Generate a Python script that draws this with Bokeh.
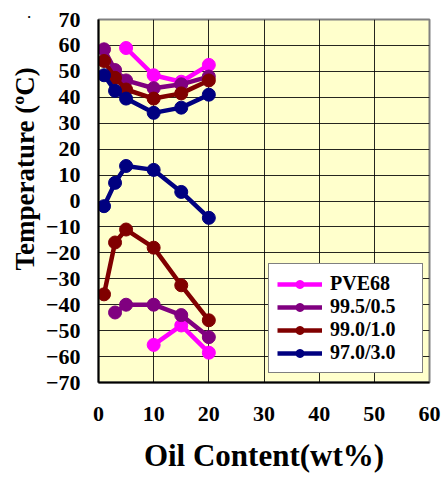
from bokeh.plotting import figure
from bokeh.models import FixedTicker, Legend, LegendItem, Range1d, Title
from bokeh.embed import file_html
from bokeh.resources import INLINE

# ---- data ----
series_names = ["PVE68", "99.5/0.5", "99.0/1.0", "97.0/3.0"]
series_colors = ["#FF00FF", "#800080", "#800000", "#000080"]

pve_hi_x = [5, 10, 15, 20]
pve_hi_y = [59, 48.5, 46, 52.5]
pve_lo_x = [10, 15, 20]
pve_lo_y = [-55.5, -48, -58.5]

s995_hi_x = [1, 3, 5, 10, 15, 20]
s995_hi_y = [58.5, 50.5, 46.5, 43.5, 45, 48]
s995_lo_x = [3, 5, 10, 15, 20]
s995_lo_y = [-43, -40, -40, -44, -52.5]

s990_hi_x = [1, 3, 5, 10, 15, 20]
s990_hi_y = [54, 47.5, 43, 39.5, 41.5, 46.5]
s990_lo_x = [1, 3, 5, 10, 15, 20]
s990_lo_y = [-36, -16, -11, -18, -32.5, -46]

s970_hi_x = [1, 3, 5, 10, 15, 20]
s970_hi_y = [48.5, 42.5, 39.5, 34, 36, 41]
s970_lo_x = [1, 3, 5, 10, 15, 20]
s970_lo_y = [-2, 7, 13.5, 12, 3.5, -6.5]

x_ticks = [0, 10, 20, 30, 40, 50, 60]
y_ticks = list(range(-70, 71, 10))

FONT = "Liberation Serif"

p = figure(frame_width=331, frame_height=363, output_backend="svg", toolbar_location=None,
           x_range=Range1d(0, 60), y_range=Range1d(-70, 70),
           min_border_left=98, min_border_right=12, min_border_top=19, min_border_bottom=95)

p.background_fill_color = "#FFFFCC"
p.border_fill_color = "white"
p.outline_line_color = "#808080"
p.outline_line_width = 2

p.xgrid.ticker = FixedTicker(ticks=x_ticks)
p.ygrid.ticker = FixedTicker(ticks=y_ticks)
p.xaxis.ticker = FixedTicker(ticks=x_ticks)
p.yaxis.ticker = FixedTicker(ticks=y_ticks)
for g in (p.xgrid, p.ygrid):
    g.grid_line_color = "black"
    g.grid_line_width = 1
    g.grid_line_alpha = 0.85

for ax in (p.xaxis, p.yaxis):
    ax.axis_line_color = "black"
    ax.axis_line_width = 2
    ax.major_tick_in = 0
    ax.major_tick_out = 0
    ax.minor_tick_in = 0
    ax.minor_tick_out = 0
    ax.major_label_text_font = FONT
    ax.major_label_text_font_style = "bold"
    ax.major_label_text_font_size = "22px"
    ax.major_label_text_color = "black"

p.xaxis.major_label_standoff = 24
p.yaxis.major_label_standoff = 18

p.xaxis.axis_label = "Oil Content(wt%)"
p.xaxis.axis_label_text_font = FONT
p.xaxis.axis_label_text_font_style = "bold"
p.xaxis.axis_label_text_font_size = "31px"
p.xaxis.axis_label_text_color = "black"
p.xaxis.axis_label_standoff = 14

ytitle = Title(text="Temperature (ºC)", align="left", offset=112, standoff=6,
               text_font=FONT, text_font_style="bold", text_font_size="27px",
               text_color="black")
p.add_layout(ytitle, "left")

dot = Title(text=".", align="left", offset=-71, standoff=0, vertical_align="top",
            text_font=FONT, text_font_style="bold", text_font_size="13px",
            text_color="black")
p.add_layout(dot, "above")

groups = [
    [(pve_hi_x, pve_hi_y), (pve_lo_x, pve_lo_y)],
    [(s995_hi_x, s995_hi_y), (s995_lo_x, s995_lo_y)],
    [(s990_hi_x, s990_hi_y), (s990_lo_x, s990_lo_y)],
    [(s970_hi_x, s970_hi_y), (s970_lo_x, s970_lo_y)],
]

items = []
for name, color, branches in zip(series_names, series_colors, groups):
    rends = []
    for bx, by in branches:
        l = p.line(bx, by, line_color=color, line_width=4.5)
        s = p.scatter(bx, by, size=13, fill_color=color, line_color=color)
        if not rends:
            rends = [l, s]
    items.append(LegendItem(label=name, renderers=rends))

legend = Legend(items=items, location=(170, 9))
legend.label_text_font = FONT
legend.label_text_font_style = "bold"
legend.label_text_font_size = "20px"
legend.label_text_color = "black"
legend.glyph_width = 45
legend.glyph_height = 20
legend.label_height = 20
legend.label_width = 84
legend.spacing = 0
legend.padding = 8
legend.margin = 0
legend.label_standoff = 8
legend.border_line_color = "black"
legend.border_line_width = 1
legend.background_fill_color = "white"
legend.background_fill_alpha = 1
p.add_layout(legend, "center")

open("out.html", "w").write(file_html(p, INLINE))
